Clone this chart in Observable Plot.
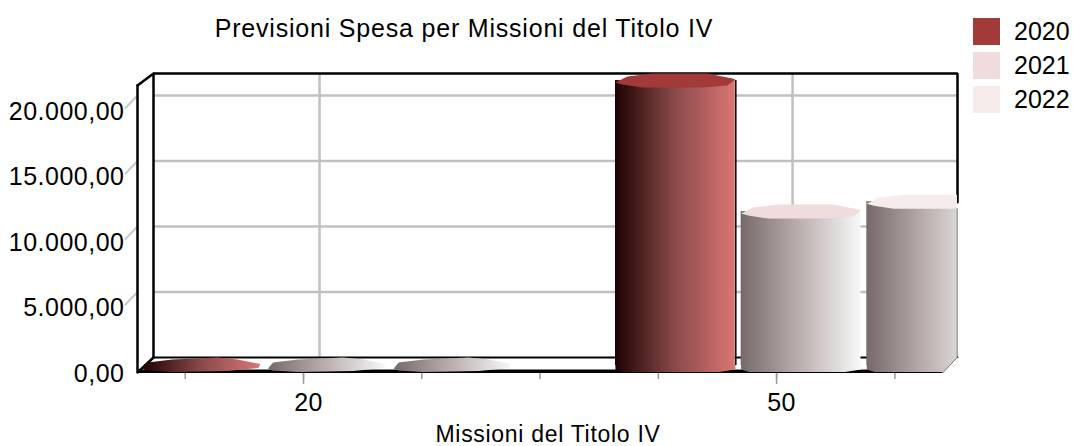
<!DOCTYPE html>
<html><head><meta charset="utf-8">
<script src="https://cdn.jsdelivr.net/npm/d3@7"></script>
<script src="https://cdn.jsdelivr.net/npm/@observablehq/plot@0.6"></script>
<style>
html,body{margin:0;padding:0;background:#fff}
#c{position:relative;width:1073px;height:446px;font-family:"Liberation Sans",Arial,sans-serif;overflow:hidden}
.sw{position:absolute;left:973px;width:27px;height:27px}
.lg{position:absolute;left:1014px;font-size:25px;line-height:27px;color:#000}
</style></head><body><div id="c"></div>
<script>
const missions = [20, 50];
const years = ["2020", "2021", "2022"];
const spesa2020 = [120, 21750];
const spesa2021 = [120, 11750];
const spesa2022 = [120, 12500];
const capColors = ["#a33a3a", "#f0dcdc", "#f6ecec"];
const gradientStops = [
  ["#1e0202", "#8a4a4a", "#da7674"],
  ["#75696a", "#bcb0b0", "#f8f8f8"],
  ["#75696a", "#bcb0b0", "#f8f8f8"]
];
const yTicks = [0, 5000, 10000, 15000, 20000];
const slotTicks = [12.5, 20, 27.5, 35, 42.5, 50, 57.5];
const title = "Previsioni Spesa per Missioni del Titolo IV";
const xLabel = "Missioni del Titolo IV";

const xMin = 9.47, xMax = 60.46, yWall = 22824, depthX = 1.015, depthY = 1145;
const barStep = 7.97, barHalf = 3.8;
const spesa = [spesa2020, spesa2021, spesa2022];
const bars = missions.flatMap((m, i) => years.map((year, s) => ({
  mission: m, year, s, value: spesa[s][i], c: m + (s - 1) * barStep
})));
const tall = bars.filter(d => d.value > 1000);
const low = bars.filter(d => d.value <= 1000);
const fmt = d3.formatLocale({decimal: ",", thousands: ".", grouping: [3], currency: ["", ""]}).format(",.2f");

const polySymbol = pts => ({draw(ctx){ pts.forEach((p,i)=> i? ctx.lineTo(p[0],p[1]) : ctx.moveTo(p[0],p[1])); ctx.closePath(); }});
const capSymbol = polySymbol([[-60,2],[-48,-4],[-23,-7],[32,-7],[57,-2],[60,-1],[52,5],[27,7],[-33,7],[-53,4]]);
const baseSymbol = polySymbol([[-60,-1],[60,-1],[60,4],[44,6.5],[-52,6.5],[-60,4]]);
const lowSymbol = polySymbol([[-60,3.5],[-55,-2.5],[-30,-5.5],[15,-7.5],[35,-5.5],[58,-1],[56,3],[25,6],[-30,7],[-56,5.5]]);

const defs = () => {
  const d = d3.create("svg:defs");
  years.forEach((y, s) => {
    const g = d.append("linearGradient").attr("id", "g" + y);
    gradientStops[s].forEach((col, k) => g.append("stop").attr("offset", k / 2).attr("stop-color", col));
  });
  return d.node();
};

const black = {stroke: "#000", strokeWidth: 2};
const pt = {x: d => d[0], y: d => d[1]};
const plot = Plot.plot({
  width: 1073, height: 446,
  marginLeft: 130, marginRight: 116, marginTop: 60, marginBottom: 73,
  x: {domain: [xMin, xMax], range: [137, 941]},
  y: {domain: [0, 23817], range: [372, 60]},
  style: {fontFamily: '"Liberation Sans", Arial, sans-serif', background: "#fff", color: "#000", overflow: "visible", letterSpacing: "0.5px"},
  marks: [
    defs,
    // back wall grid
    Plot.ruleY(yTicks.slice(1), {y: d => d + depthY, x1: xMin + depthX, x2: xMax + depthX, stroke: "#c0c0c0", strokeWidth: 2.5}),
    Plot.ruleX(missions, {x: d => d + depthX, y1: depthY, y2: yWall, stroke: "#c0c0c0", strokeWidth: 2.5}),
    // outer slanted tick marks
    Plot.link(yTicks.slice(1), {x1: xMin, y1: d => d + depthY, x2: xMin - 0.8, y2: d => d + depthY - 1000, stroke: "#c8c8c8", strokeWidth: 2}),
    // frame
    Plot.line([[xMin + depthX, depthY],[xMin + depthX, yWall],[xMax + depthX, yWall],[xMax + depthX, 13000]], {...pt, ...black, strokeWidth: 2.5, strokeLinejoin: "miter"}),
    Plot.line([[xMin + depthX, depthY],[xMax + depthX, depthY]], {...pt, ...black}),
    Plot.line([[xMin, 21908],[xMin + depthX, yWall]], {...pt, ...black, strokeWidth: 2.5}),
    Plot.line([[xMin + depthX, depthY],[xMin, 0],[xMin, 21908]], {...pt, ...black, strokeWidth: 2.5}),
    Plot.ruleY([0], {x1: xMin, x2: xMax + 0.1, stroke: "#000", strokeWidth: 3.5, dy: -1.25}),
    // cylinders
    Plot.dot(low, {x: "c", y: 0, dx: 24.5, dy: -7.5, symbol: lowSymbol, r: 1, fill: d => `url(#g${d.year})`, stroke: null, clip: "frame"}),
    Plot.dot(tall, {x: "c", y: 0, dx: 24.5, dy: -7, symbol: baseSymbol, r: 1, fill: d => `url(#g${d.year})`, stroke: null, clip: "frame"}),
    Plot.rect(tall, {x1: d => d.c - barHalf, x2: d => d.c + barHalf, y1: 0, y2: "value", dx: 24.5, dy: -7, fill: d => `url(#g${d.year})`, clip: "frame"}),
    Plot.ruleX(tall.filter(d => d.s === 0), {x: d => d.c + barHalf, y1: 0, y2: "value", dx: 25, dy: -7, stroke: "#000", strokeWidth: 1.5}),
    Plot.dot(tall, {x: "c", y: "value", dx: 24.5, dy: -7, symbol: capSymbol, r: 1, fill: d => capColors[d.s], stroke: null, clip: "frame"}),
    // right edge of the wall and floor corner
    Plot.line([[xMax + depthX + 0.03, depthY - 2],[xMax + depthX + 0.03, depthY + 0],[xMax + 0.1, 0],[xMax + depthX + 0.03, 0],[xMax + depthX + 0.03, depthY - 2]], {...pt, fill: "#fff", stroke: "none"}),
    Plot.line([[xMax + depthX - 0.02, 12500],[xMax + depthX - 0.02, depthY],[xMax + 0.1, 0]], {...pt, stroke: "#777", strokeWidth: 1}),
    // axes
    Plot.axisY({ticks: yTicks, tickSize: 0, tickPadding: 6, tickFormat: fmt, fontSize: 25, dy: 1, label: null}),
    Plot.axisX({ticks: slotTicks, tickSize: 6, tickPadding: 0, tickFormat: () => "", stroke: "#999", strokeWidth: 1.5, label: null}),
    Plot.axisX({ticks: missions, tickSize: 11, tickPadding: 200, tickFormat: () => "", stroke: "#999", strokeWidth: 1.5, label: null}),
    Plot.axisX({ticks: missions, tickSize: 0, tickPadding: 20, dx: 5, fontSize: 25, label: null}),
    Plot.text([xLabel], {frameAnchor: "bottom", dx: 4, dy: 68, fontSize: 23}),
    Plot.text([title], {frameAnchor: "top", dx: -80, dy: -41, fontSize: 25})
  ]
});
plot.querySelectorAll("text").forEach(t => {
  if (t.textContent === title) t.setAttribute("letter-spacing", "0.8");
  if (t.textContent === xLabel) t.setAttribute("letter-spacing", "0.7");
});
const c = document.getElementById("c");
c.appendChild(plot);
years.forEach((y, i) => {
  const top = 18 + i * 34;
  const s = document.createElement("div"); s.className = "sw"; s.style.top = top + "px"; s.style.background = capColors[i]; c.appendChild(s);
  const t = document.createElement("div"); t.className = "lg"; t.style.top = top + "px"; t.textContent = y; c.appendChild(t);
});
</script></body></html>
